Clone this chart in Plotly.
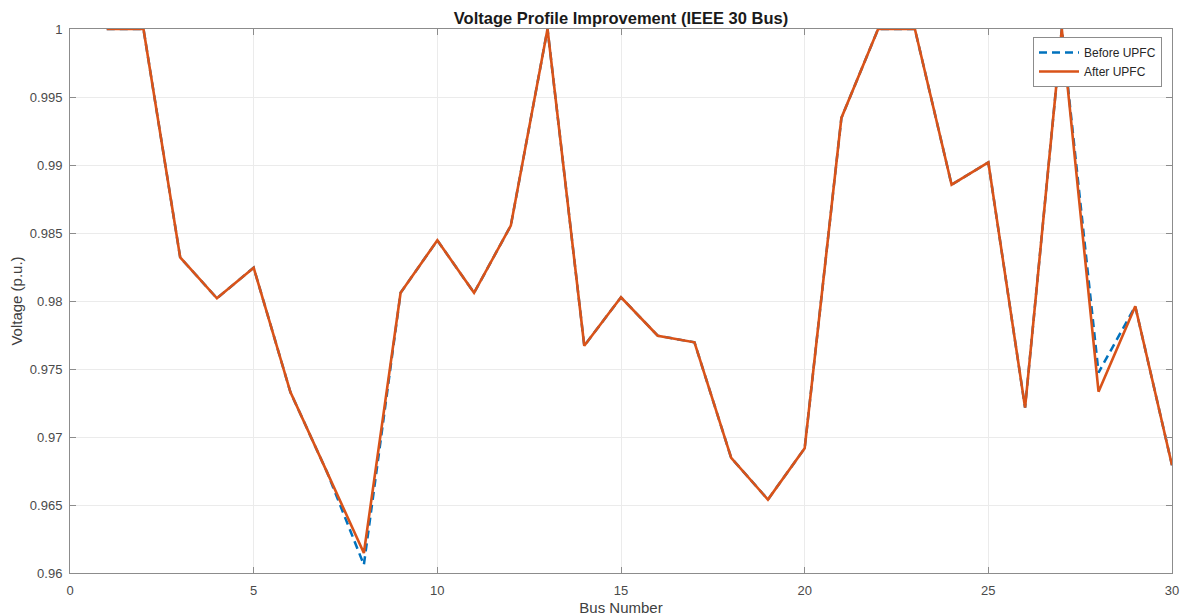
import plotly.graph_objects as go

bus = list(range(1, 31))
v_before = [1.0, 1.0, 0.9832, 0.9802, 0.98245, 0.9733, 0.9674, 0.9606, 0.9806, 0.98446,
            0.9806, 0.98554, 1.0, 0.97671, 0.98027, 0.97745, 0.97696, 0.96846, 0.9654, 0.96917,
            0.99346, 1.0, 1.0, 0.98855, 0.99019, 0.97216, 1.0, 0.97474, 0.97961, 0.96792]
v_after = [1.0, 1.0, 0.9832, 0.9802, 0.98245, 0.9733, 0.9674, 0.96147, 0.9806, 0.98446,
           0.9806, 0.98554, 1.0, 0.97671, 0.98027, 0.97745, 0.97696, 0.96846, 0.9654, 0.96917,
           0.99346, 1.0, 1.0, 0.98855, 0.99019, 0.97216, 1.0, 0.97333, 0.97961, 0.96792]
x_ticks = [0, 5, 10, 15, 20, 25, 30]
y_ticks = [0.96, 0.965, 0.97, 0.975, 0.98, 0.985, 0.99, 0.995, 1.0]
y_labels = ["0.96", "0.965", "0.97", "0.975", "0.98", "0.985", "0.99", "0.995", "1"]

FONT = "Liberation Sans, Arial, Helvetica, sans-serif"

fig = go.Figure()
fig.add_trace(go.Scatter(x=bus, y=v_before, mode="lines", name="Before UPFC",
                         line=dict(color="#0072BD", width=2.5, dash="8px,5px")))
fig.add_trace(go.Scatter(x=bus, y=v_after, mode="lines", name="After UPFC",
                         line=dict(color="#D95319", width=2.6)))

axis_common = dict(showline=True, linecolor="#8c8c8c", linewidth=1, mirror="ticks",
                   ticks="inside", ticklen=6, tickcolor="#8c8c8c",
                   showgrid=True, gridcolor="#ebebeb", gridwidth=1, zeroline=False,
                   automargin=False,
                   tickfont=dict(family=FONT, size=13, color="#4a4a4a"))

fig.update_layout(
    width=1181, height=616,
    margin=dict(l=70, r=9, t=29, b=43),
    paper_bgcolor="white", plot_bgcolor="white",
    title=dict(text="<b>Voltage Profile Improvement (IEEE 30 Bus)</b>",
               x=(70 + 1172) / 2 / 1181, xanchor="center",
               y=1 - 18 / 616, yanchor="middle", yref="container",
               font=dict(family=FONT, size=16.5, color="#1a1a1a")),
    xaxis=dict(range=[0, 30], tickvals=x_ticks, ticklabelstandoff=5,
               title=dict(text="Bus Number", standoff=5,
                          font=dict(family=FONT, size=15, color="#404040")),
               **axis_common),
    yaxis=dict(range=[0.96, 1.0], tickvals=y_ticks, ticktext=y_labels, ticklabelstandoff=4,
               title=dict(text="Voltage (p.u.)", standoff=3,
                          font=dict(family=FONT, size=15, color="#404040")),
               **axis_common),
    legend=dict(x=(1162 - 70) / 1102, y=1 - (37 - 29) / 544, xanchor="right", yanchor="top",
                bgcolor="white", bordercolor="#8c8c8c", borderwidth=1,
                font=dict(family=FONT, size=12, color="#262626"),
                tracegroupgap=0, itemwidth=40),
    showlegend=True,
)

fig.write_html("out.html", config={"displayModeBar": False},
               post_script="document.body.style.margin='0';document.body.style.overflow='hidden';")
